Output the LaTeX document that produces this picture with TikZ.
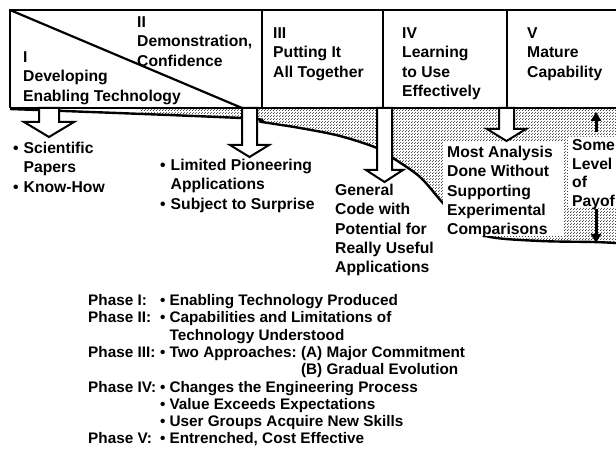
\documentclass[tikz,border=0pt]{standalone}
\usepackage{fontspec}
\setmainfont{Liberation Sans}
\usetikzlibrary{patterns,arrows.meta}
\frenchspacing
\newcommand{\stk}[1]{\begin{tabular}[t]{@{}l@{}}#1\end{tabular}}
\newcommand{\blst}[1]{\begin{tabular}[t]{@{}l@{\hspace{5pt}}l@{}}#1\end{tabular}}
\pgfdeclarepatternformonly{stipple}{\pgfpointorigin}{\pgfpoint{3pt}{3pt}}{\pgfpoint{3pt}{3pt}}{%
  \pgfpathcircle{\pgfpoint{0.75pt}{0.75pt}}{0.62pt}%
  \pgfpathcircle{\pgfpoint{2.25pt}{2.25pt}}{0.62pt}%
  \pgfusepath{fill}}
\tikzset{
  txt/.style={font=\fontsize{15.7}{19.3}\selectfont\bfseries, anchor=base west, inner sep=0pt},
  txtp/.style={font=\fontsize{15.7}{18.5}\selectfont\bfseries, anchor=base west, inner sep=0pt},
  phtxt/.style={font=\fontsize{15.3}{17.3}\selectfont\bfseries, anchor=base west, inner sep=0pt},
  frame/.style={line width=2.2pt},
  curveline/.style={line width=2.4pt},
  blockarrow/.style={draw, fill=white, line width=2pt, line join=miter},
  payarrow/.style={line width=3pt, -{Triangle[width=10pt,length=9pt]}},
  shade/.style={pattern=stipple, pattern color=black}
}
\begin{document}
\begin{tikzpicture}[x=1pt,y=-1pt]
\useasboundingbox (0,0) rectangle (616,465);
% shaded band
\begin{scope}
\clip (140,100) rectangle (616,260);
\fill[shade] (10,108) -- plot[smooth,tension=0.55] coordinates {(10,109) (240,118) (262,122) (300,128) (340,136) (377,148) (393,158) (420,177) (442,202) (465,226) (490,237) (540,241) (593,242) (616,243)} -- (616,108) -- cycle;
\end{scope}
\draw[curveline] plot[smooth,tension=0.55] coordinates {(10,109) (240,118) (262,122) (300,128) (340,136) (377,148) (393,158) (420,177) (442,202) (465,226) (490,237) (540,241) (593,242) (616,243)};
% white text areas
\fill[white] (443,141) rectangle (563,236);
\fill[white] (568,137) rectangle (616,207);
% frame
\draw[frame] (10,108) -- (10,10) -- (616,10);
\draw[frame] (10,108) -- (616,108);
\draw[frame] (10,10) -- (242,108);
\draw[frame] (262,10) -- (262,108);
\draw[frame] (383,10) -- (383,108);
\draw[frame] (507,10) -- (507,108);
% block arrows
\draw[blockarrow] (39,108) -- (39,122) -- (24,122) -- (49,137) -- (74,122) -- (59,122) -- (59,108) -- cycle;
\draw[blockarrow] (242,108) -- (242,145) -- (230,145) -- (249.5,157) -- (269,145) -- (257,145) -- (257,108) -- cycle;
\draw[blockarrow] (377,108) -- (377,170) -- (366,170) -- (384.5,182) -- (403,170) -- (392,170) -- (392,108) -- cycle;
\draw[blockarrow] (499,108) -- (499,129) -- (487,129) -- (506.5,141) -- (526,129) -- (514,129) -- (514,108) -- cycle;
% payoff arrows
\coordinate (payup) at (596,112);
\coordinate (paytop) at (596,132);
\coordinate (paybot) at (596,209);
\coordinate (paydown) at (596,243);
\draw[payarrow] (paytop) -- (payup);
\draw[payarrow] (paybot) -- (paydown);
% box texts
\node[txt] (t1) at (23,62.6) {\stk{I\\Developing\\Enabling Technology}};
\node[txt] (t2) at (137,27.6) {\stk{II\\Demonstration,\\Confidence}};
\node[txt] (t3) at (273,38.6) {\stk{III\\Putting It\\All Together}};
\node[txt] (t4) at (402,38.6) {\stk{IV\\Learning\\to Use\\Effectively}};
\node[txt] (t5) at (527,38.6) {\stk{V\\Mature\\Capability}};
% outcome texts
\node[txt] (o1) at (13,153.6) {\blst{•&Scientific\\&Papers\\•&Know-How}};
\node[txt] (o2) at (160,170.6) {\blst{•&Limited Pioneering\\&Applications\\•&Subject to Surprise}};
\node[txt] (o3) at (335,195.6) {\stk{General\\Code with\\Potential for\\Really Useful\\Applications}};
\node[txt] (o4) at (447,157.6) {\stk{Most Analysis\\Done Without\\Supporting\\Experimental\\Comparisons}};
\node[txtp] (o5) at (572,150.6) {\stk{Some\\Level\\of\\Payof}};
% phase summary
\node[phtxt] (ph) at (88,305.5) {\begin{tabular}[t]{@{}p{72pt}@{}l@{\hspace{4pt}}l@{}}
Phase I: & • & Enabling Technology Produced\\
Phase II: & • & Capabilities and Limitations of\\
 & & Technology Understood\\
Phase III: & • & Two Approaches: (A) Major Commitment\\
 & & \phantom{Two Approaches: }(B) Gradual Evolution\\
Phase IV: & • & Changes the Engineering Process\\
 & • & Value Exceeds Expectations\\
 & • & User Groups Acquire New Skills\\
Phase V: & • & Entrenched, Cost Effective
\end{tabular}};
\end{tikzpicture}
\end{document}
